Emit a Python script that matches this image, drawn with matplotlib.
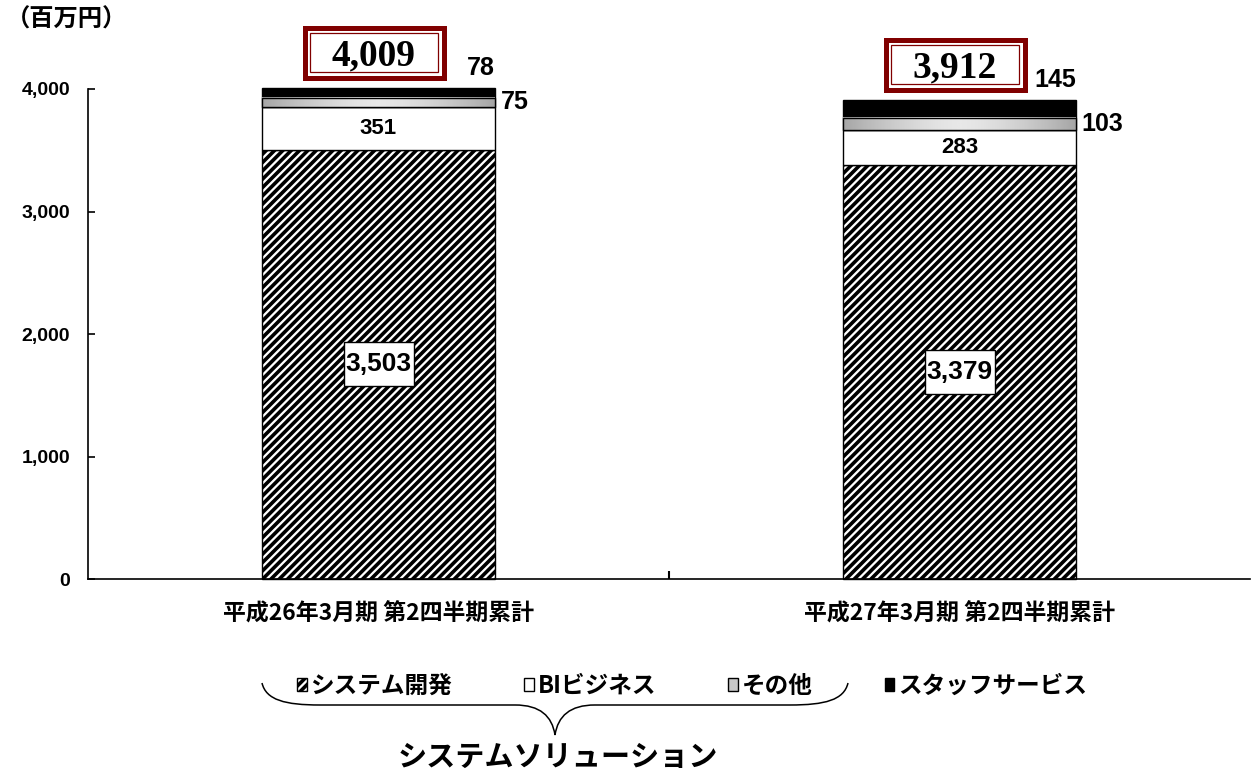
import numpy as np
import matplotlib
matplotlib.use("Agg")
import matplotlib.pyplot as plt
import matplotlib.transforms as mtransforms
from matplotlib.patches import Rectangle, PathPatch
from matplotlib.path import Path

plt.rcParams['font.family'] = ['Noto Sans CJK JP', 'DejaVu Sans']
plt.rcParams['hatch.linewidth'] = 2.6

# data
categories = ["平成26年3月期 第2四半期累計", "平成27年3月期 第2四半期累計"]
sys_dev = [3503, 3379]
bi_biz = [351, 283]
other = [75, 103]
staff = [78, 145]
totals = ["4,009", "3,912"]
series_names = ["システム開発", "BIビジネス", "その他", "スタッフサービス"]
y_ticks = [0, 1000, 2000, 3000, 4000]

W, H = 1253, 772
fig = plt.figure(figsize=(W / 100, H / 100), dpi=100)
ax = fig.add_axes([88 / W, 193 / H, 1162 / W, 490 / H])

x = np.arange(len(categories))
bw = 0.4
base1 = np.array(sys_dev)
base2 = base1 + np.array(bi_biz)
base3 = base2 + np.array(other)
tops = base3 + np.array(staff)

b_sys = ax.bar(x, sys_dev, bw, color="white", edgecolor="black", hatch="////",
               linewidth=1, clip_on=False)
b_bi = ax.bar(x, bi_biz, bw, bottom=base1, color="white", edgecolor="black",
              linewidth=1, clip_on=False)
b_oth = ax.bar(x, other, bw, bottom=base2, color="#c8c8c8", edgecolor="black",
               linewidth=1, clip_on=False)
b_stf = ax.bar(x, staff, bw, bottom=base3, color="black", edgecolor="black",
               linewidth=1, clip_on=False)

# gradient fill for the "その他" segments
grad = np.abs(np.linspace(-1, 1, 200)) ** 1.5
grad = grad[np.newaxis, :]
gcmap = matplotlib.colors.LinearSegmentedColormap.from_list(
    "g", ["#e8e8e8", "#a6a6a6"])
for p in b_oth.patches:
    im = ax.imshow(grad, extent=(p.get_x(), p.get_x() + p.get_width(),
                                 p.get_y(), p.get_y() + p.get_height()),
                   cmap=gcmap, aspect="auto", zorder=p.get_zorder() + 0.1,
                   clip_on=False)
    im.set_clip_path(p)
    ax.add_patch(Rectangle((p.get_x(), p.get_y()), p.get_width(), p.get_height(),
                           fill=False, edgecolor="black", linewidth=1,
                           zorder=p.get_zorder() + 0.2, clip_on=False))
ax.set_xlim(-0.5, 1.5)
ax.set_ylim(0, 4000)

# axes styling
for s in ["top", "right"]:
    ax.spines[s].set_visible(False)
ax.spines["left"].set_linewidth(1.2)
ax.spines["bottom"].set_linewidth(1.2)
ax.set_yticks(y_ticks)
ax.set_yticklabels([f"{v:,}" for v in y_ticks], family="Liberation Sans",
                   fontweight="bold", fontsize=14)
ax.tick_params(axis="y", direction="in", length=5, width=1.2, pad=13)
ax.set_xticks(x)
ax.set_xticklabels(categories, fontsize=16.5, fontweight="bold")
ax.tick_params(axis="x", length=0, pad=17)
ax.set_xticks([0.5], minor=True)
ax.tick_params(axis="x", which="minor", direction="in", length=6, width=1.5)

num_font = dict(family=["Liberation Sans Narrow", "Liberation Sans"],
                fontweight="bold")

for i in range(len(categories)):
    # システム開発 label in a white box
    box_tr = fig.dpi_scale_trans + mtransforms.ScaledTranslation(
        x[i], sys_dev[i] / 2, ax.transData)
    ax.add_artist(Rectangle((-0.35, -0.22), 0.70, 0.44, transform=box_tr,
                            fc="white", ec="black", lw=1, clip_on=False,
                            zorder=5))
    ax.text(x[i], sys_dev[i] / 2, f"{sys_dev[i]:,}", ha="center", va="center",
            fontsize=19, zorder=6, **num_font)
    # BI label
    ax.text(x[i], base1[i] + bi_biz[i] / 2, f"{bi_biz[i]}", ha="center",
            va="center", fontsize=16, zorder=5, **num_font)
    # その他 label (right side)
    ax.annotate(f"{other[i]}", (x[i] + bw / 2, base2[i] + other[i] / 2),
                xytext=(6, 0), textcoords="offset pixels", ha="left",
                va="center", fontsize=18, annotation_clip=False, **num_font)
    # スタッフサービス label (above, right aligned)
    ax.annotate(f"{staff[i]}", (x[i] + bw / 2, tops[i]),
                xytext=(0, 8), textcoords="offset pixels", ha="right",
                va="bottom", fontsize=18, annotation_clip=False, **num_font)

    # total box with double border
    trans = fig.dpi_scale_trans + mtransforms.ScaledTranslation(
        x[i], tops[i], ax.transData)
    ax.add_artist(Rectangle((-0.74, 0.105), 1.39, 0.50, transform=trans,
                            fc="white", ec="#800000", lw=3.6, clip_on=False,
                            zorder=6))
    ax.add_artist(Rectangle((-0.74 + 0.058, 0.105 + 0.058), 1.39 - 0.116,
                            0.50 - 0.116, transform=trans, fill=False,
                            ec="#800000", lw=0.9, clip_on=False, zorder=7))
    ax.annotate(totals[i], (x[i], tops[i]), xytext=(-4.5, 23),
                textcoords="offset pixels", ha="center", va="baseline",
                fontsize=27, family="Liberation Serif", fontweight="bold",
                annotation_clip=False, zorder=8)

# unit label
fig.text(6 / W, 1 - 20 / H, "（百万円）", ha="left", va="center",
         fontsize=17.5, fontweight="bold")

# legend
leg = fig.legend([b_sys.patches[0], b_bi.patches[0], b_oth.patches[0],
                  b_stf.patches[0]], series_names, ncol=4,
                 loc="center left", bbox_to_anchor=(297 / W, 1 - 686 / H),
                 frameon=False, borderpad=0, borderaxespad=0,
                 handlelength=0.42, handleheight=0.42, handletextpad=0.15,
                 columnspacing=3.05,
                 prop=dict(family="Noto Sans CJK JP", weight="bold", size=17))

# curly brace under the first three entries
def px(xp, yp):
    return (xp / W, 1 - yp / H)

verts = [px(262, 683), px(266, 700), px(285, 705), px(320, 705),
         px(515, 705), px(540, 705), px(552, 716), px(555, 735),
         px(558, 716), px(570, 705), px(595, 705),
         px(790, 705), px(825, 705), px(844, 700), px(848, 683)]
codes = [Path.MOVETO, Path.CURVE4, Path.CURVE4, Path.CURVE4,
         Path.LINETO, Path.CURVE4, Path.CURVE4, Path.CURVE4,
         Path.CURVE4, Path.CURVE4, Path.CURVE4,
         Path.LINETO, Path.CURVE4, Path.CURVE4, Path.CURVE4]
fig.add_artist(PathPatch(Path(verts, codes), fill=False, lw=1.1,
                         ec="black", transform=fig.transFigure))

fig.text(558 / W, 1 - 757 / H, "システムソリューション", ha="center",
         va="center", fontsize=21, fontweight="bold")

fig.savefig("out.png", dpi=100)
